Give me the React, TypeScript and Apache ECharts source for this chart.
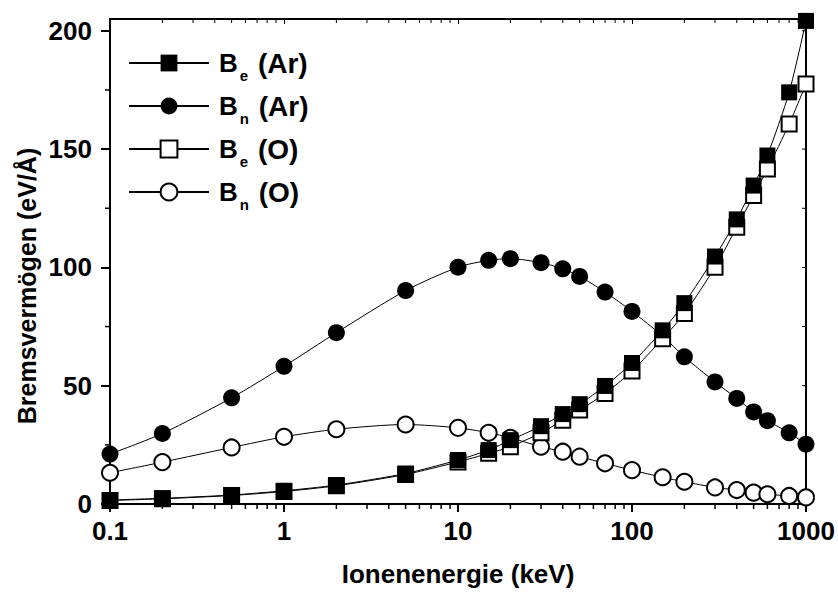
import React, { useEffect, useRef } from "react";
import * as echarts from "echarts";

const energies = [0.1, 0.2, 0.5, 1, 2, 5, 10, 15, 20, 30, 40, 50, 70, 100, 150, 200, 300, 400, 500, 600, 800, 1000];
const beAr = [1.7, 2.4, 3.8, 5.6, 8.0, 12.9, 18.6, 22.8, 27.0, 32.9, 38.0, 42.2, 49.9, 59.6, 73.4, 84.9, 104.6, 120.3, 134.6, 147.3, 174.0, 204.2];
const bnAr = [21.1, 29.8, 44.9, 58.2, 72.4, 90.2, 100.1, 103.0, 103.7, 102.0, 99.4, 96.2, 89.6, 81.4, 71.0, 62.2, 51.6, 44.6, 38.9, 35.2, 30.1, 25.3];
const beO = [1.5, 2.2, 3.6, 5.3, 7.7, 12.5, 17.8, 21.4, 24.2, 30.1, 35.4, 39.7, 46.7, 56.2, 69.9, 80.5, 100.1, 117.0, 130.4, 141.6, 160.6, 177.5];
const bnO = [13.2, 17.7, 23.9, 28.4, 31.6, 33.6, 32.2, 30.1, 28.0, 24.2, 22.1, 20.0, 17.2, 14.3, 11.3, 9.4, 7.0, 5.9, 4.8, 4.1, 3.4, 2.8];

const xMajorTicks = [0.1, 1, 10, 100, 1000];
const xTickLabels = ["0.1", "1", "10", "100", "1000"];
const xMinorTicks = [0.2, 0.3, 0.4, 0.5, 0.6, 0.7, 0.8, 0.9, 2, 3, 4, 5, 6, 7, 8, 9, 20, 30, 40, 50, 60, 70, 80, 90, 200, 300, 400, 500, 600, 700, 800, 900];
const yMajorTicks = [0, 50, 100, 150, 200];
const yMinorTicks = [25, 75, 125, 175];
const yAllTicks = [0, 25, 50, 75, 100, 125, 150, 175, 200];
const xMin = 0.1;
const xMax = 1000;
const yMin = 0;
const yMax = 205;

const seriesNames = ["Be (Ar)", "Bn (Ar)", "Be (O)", "Bn (O)"];
const legendMain = ["B", "B", "B", "B"];
const legendSub = ["e", "n", "e", "n"];
const legendSuffix = [" (Ar)", " (Ar)", " (O)", " (O)"];

const xTitle = "Ionenenergie (keV)";
const yTitle = "Bremsvermögen (eV/Å)";

const FONT = "'Liberation Sans', Arial, Helvetica, sans-serif";

function pairs(ys: number[]) {
  return energies.map((x, i) => [x, ys[i]]);
}

export default function App() {
  const ref = useRef<HTMLDivElement>(null);
  useEffect(() => {
    document.body.style.margin = "0";
    if (!ref.current) return;
    const chart = echarts.init(ref.current, undefined, { renderer: "svg" });
    const black = "#000";
    const line = { color: black, width: 1 };
    const filled = { color: black };
    const openStyle = { color: "#fff", borderColor: black, borderWidth: 2 };

    const mkSeries = (name: string, ys: number[], symbol: string, size: number, itemStyle: any) => ({
      name,
      type: "line",
      data: pairs(ys),
      xAxisIndex: 0,
      yAxisIndex: 0,
      symbol,
      symbolSize: size,
      showAllSymbol: true,
      smooth: 0.25,
      lineStyle: line,
      itemStyle,
      emphasis: { disabled: true },
      z: 3,
    });

    const tickSeries = (data: number[][], dx: number, dy: number, w: number) => ({
      type: "custom",
      xAxisIndex: 0,
      yAxisIndex: 0,
      silent: true,
      clip: false,
      z: 1,
      data,
      encode: { x: 0, y: 1 },
      renderItem: (_p: any, api: any) => {
        const p = api.coord([api.value(0), api.value(1)]);
        return {
          type: "line",
          shape: { x1: p[0], y1: p[1], x2: p[0] + dx, y2: p[1] + dy },
          style: { stroke: black, lineWidth: w },
        };
      },
    });

    const option: any = {
      animation: false,
      textStyle: { fontFamily: FONT },
      grid: { left: 110, right: 32, top: 19, bottom: 89, containLabel: false },
      legend: {
        data: seriesNames,
        left: 128,
        top: 43,
        orient: "vertical",
        padding: 0,
        itemGap: 3,
        itemWidth: 80,
        itemHeight: 21,
        selectedMode: false,
        formatter: (name: string) => {
          const i = seriesNames.indexOf(name);
          return `{b0|${legendMain[i]}}{s|${legendSub[i]}}{b|${legendSuffix[i]}}`;
        },
        textStyle: {
          fontFamily: FONT,
          fontSize: 27,
          fontWeight: "bold",
          color: black,
          rich: {
            b0: { fontFamily: FONT, fontSize: 26, fontWeight: "bold", color: black, lineHeight: 28, padding: [0, 0, 0, 5] },
            b: { fontFamily: FONT, fontSize: 28, fontWeight: "bold", color: black, lineHeight: 28 },
            s: { fontFamily: FONT, fontSize: 15, fontWeight: "bold", color: black, lineHeight: 15, padding: [25, 2, 0, 2] },
          },
        },
      },
      xAxis: [
        {
          type: "log",
          logBase: 10,
          min: xMin,
          max: xMax,
          position: "bottom",
          axisLine: { show: true, onZero: false, lineStyle: { color: black, width: 2 } },
          axisTick: { show: true, inside: false, length: 8, lineStyle: { color: black, width: 2 } },
          axisLabel: {
            show: true,
            margin: 14,
            color: black,
            fontFamily: FONT,
            fontSize: 26,
            fontWeight: "bold",
            formatter: (v: number) => {
              let best = 0;
              for (let i = 0; i < xMajorTicks.length; i++) {
                if (Math.abs(Math.log10(v) - Math.log10(xMajorTicks[i])) < Math.abs(Math.log10(v) - Math.log10(xMajorTicks[best]))) best = i;
              }
              return xTickLabels[best];
            },
          },
          splitLine: { show: false },
        },
        {
          type: "log",
          logBase: 10,
          min: xMin,
          max: xMax,
          position: "top",
          axisLine: { show: true, onZero: false, lineStyle: { color: black, width: 2 } },
          axisTick: { show: true, inside: true, length: 5, lineStyle: { color: black, width: 1 } },
          axisLabel: { show: false },
          splitLine: { show: false },
        },
      ],
      yAxis: [
        {
          type: "value",
          min: yMin,
          max: yMax,
          interval: 50,
          position: "left",
          axisLine: { show: true, onZero: false, lineStyle: { color: black, width: 2 } },
          axisTick: { show: true, inside: false, length: 9, customValues: yMajorTicks, lineStyle: { color: black, width: 2 } },
          axisLabel: {
            show: true,
            margin: 18,
            color: black,
            fontFamily: FONT,
            fontSize: 26,
            fontWeight: "bold",
            customValues: yMajorTicks,
            formatter: (v: number) => (yMajorTicks.indexOf(v) >= 0 ? String(v) : ""),
          },
          splitLine: { show: false },
        },
        {
          type: "value",
          min: yMin,
          max: yMax,
          interval: 50,
          position: "right",
          axisLine: { show: true, onZero: false, lineStyle: { color: black, width: 2 } },
          axisTick: { show: false },
          axisLabel: { show: false },
          splitLine: { show: false },
        },
      ],
      graphic: [
        {
          type: "text",
          x: 458,
          y: 574,
          style: {
            text: xTitle,
            fill: black,
            font: `bold 26px ${FONT}`,
            align: "center",
            verticalAlign: "middle",
            textAlign: "center",
            textVerticalAlign: "middle",
          },
        },
        {
          type: "text",
          x: 27,
          y: 286,
          rotation: Math.PI / 2,
          style: {
            text: yTitle,
            fill: black,
            font: `bold 25px ${FONT}`,
            align: "center",
            verticalAlign: "middle",
            textAlign: "center",
            textVerticalAlign: "middle",
          },
        },
      ],
      series: [
        tickSeries(xMinorTicks.map((v) => [v, yMin]), 0, 5, 1.5),
        tickSeries(xMinorTicks.map((v) => [v, yMax]), 0, 4, 1),
        tickSeries(yMinorTicks.map((v) => [xMin, v]), -5, 0, 1.5),
        tickSeries(yAllTicks.map((v) => [xMax, v]), -4, 0, 1),
        mkSeries(seriesNames[3], bnO, "circle", 16, openStyle),
        mkSeries(seriesNames[1], bnAr, "circle", 17, filled),
        mkSeries(seriesNames[2], beO, "rect", 15, openStyle),
        mkSeries(seriesNames[0], beAr, "rect", 16, filled),
      ],
    };
    chart.setOption(option);
    return () => chart.dispose();
  }, []);
  return <div ref={ref} style={{ width: 838, height: 593 }} />;
}
